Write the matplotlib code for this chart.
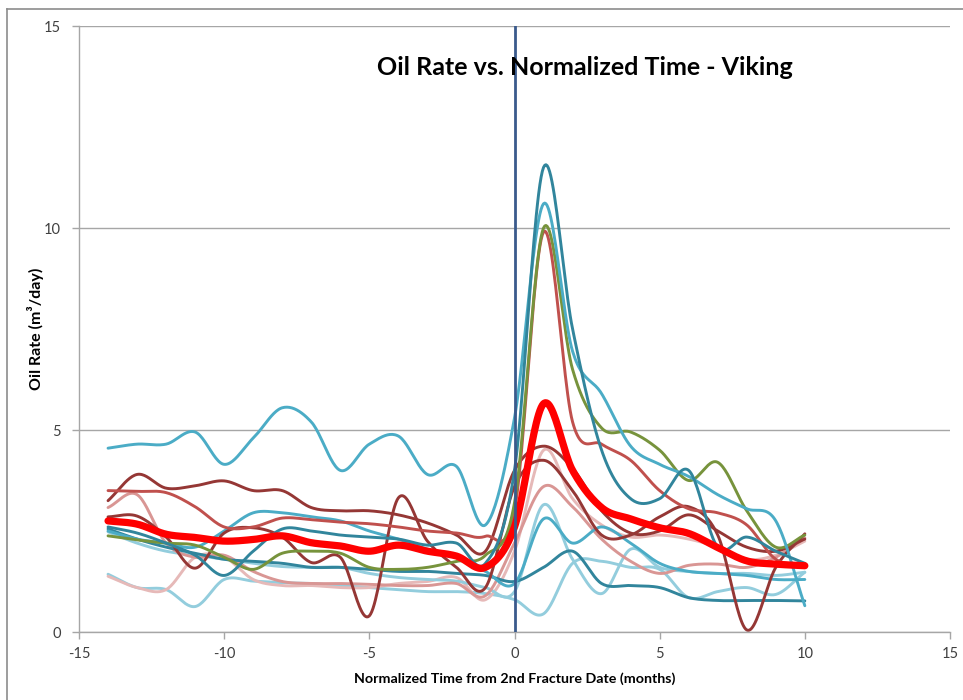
import numpy as np
import matplotlib
matplotlib.use("Agg")
import matplotlib.pyplot as plt
from matplotlib.lines import Line2D

plt.rcParams['font.family'] = ['Lato', 'DejaVu Sans']
plt.rcParams['axes.unicode_minus'] = False

# months from the 2nd fracture date
months = list(range(-14, 11))

# monthly oil rate per well (m3/day)
cyan_hi = [4.55, 4.65, 4.65, 4.95, 4.15, 4.8, 5.55, 5.2, 4.0, 4.65, 4.85, 3.9, 4.1, 2.65,
           5.3, 10.6, 6.95, 5.9, 4.6, 4.15, 3.85, 3.4, 3.05, 2.75, 0.65]
teal_peak = [2.6, 2.45, 2.2, 1.9, 1.4, 2.0, 2.55, 2.5, 2.4, 2.35, 2.3, 2.15, 2.2, 1.7,
             4.0, 11.5, 7.5, 4.5, 3.3, 3.3, 4.0, 2.1, 2.35, 2.0, 1.7]
olive = [2.38, 2.28, 2.2, 2.15, 1.85, 1.55, 1.95, 2.0, 1.95, 1.6, 1.55, 1.6, 1.75, 1.9,
         3.2, 10.0, 6.5, 5.05, 4.95, 4.5, 3.75, 4.2, 3.0, 2.1, 2.4]
red_peak = [3.5, 3.48, 3.45, 3.1, 2.6, 2.6, 2.82, 2.78, 2.72, 2.68, 2.6, 2.5, 2.45, 2.37,
            3.0, 9.9, 5.2, 4.65, 4.25, 3.5, 3.05, 2.95, 2.65, 1.8, 1.68]
maroon_a = [3.25, 3.9, 3.56, 3.62, 3.74, 3.5, 3.5, 3.08, 3.0, 3.0, 2.9, 2.7, 2.4, 2.0,
            4.0, 4.6, 4.05, 3.0, 2.45, 2.5, 2.9, 2.5, 2.1, 2.0, 2.3]
maroon_b = [2.85, 2.87, 2.35, 1.58, 2.45, 2.58, 2.35, 1.72, 1.85, 0.4, 3.32, 2.25, 1.6, 1.1,
            3.6, 4.25, 3.5, 2.4, 2.4, 2.85, 3.1, 2.4, 0.05, 1.6, 2.43]
pink = [3.08, 3.4, 2.2, 1.85, 1.9, 1.5, 1.25, 1.2, 1.2, 1.18, 1.15, 1.15, 1.2, 0.9,
        2.2, 3.6, 3.1, 2.3, 1.75, 1.45, 1.65, 1.68, 1.6, 1.85, 2.33]
light_pink = [1.38, 1.1, 1.05, 1.85, 1.85, 1.3, 1.15, 1.15, 1.1, 1.1, 1.2, 1.25, 1.35, 0.8,
              2.0, 4.5, 3.3, 2.65, 2.35, 2.4, 2.3, 2.1, 1.8, 1.9, 2.25]
light_blue_a = [1.43, 1.1, 1.05, 0.63, 1.3, 1.26, 1.22, 1.2, 1.15, 1.1, 1.05, 1.0, 1.0, 0.95,
                0.8, 0.45, 1.7, 1.75, 1.6, 1.55, 0.85, 1.0, 1.1, 0.93, 1.48]
light_blue_b = [2.48, 2.2, 2.0, 1.9, 1.8, 1.7, 1.62, 1.6, 1.6, 1.45, 1.35, 1.3, 1.26, 1.1,
                1.0, 3.15, 1.8, 0.95, 2.05, 1.6, 1.5, 1.45, 1.45, 1.4, 1.48]
teal_low = [2.55, 2.3, 2.1, 1.95, 1.8, 1.75, 1.7, 1.6, 1.6, 1.55, 1.5, 1.5, 1.45, 1.4,
            1.25, 1.6, 2.0, 1.2, 1.15, 1.1, 0.85, 0.78, 0.78, 0.78, 0.77]
cyan_mid = [2.5, 2.3, 2.2, 2.1, 2.5, 2.95, 2.95, 2.85, 2.75, 2.5, 2.3, 2.05, 1.9, 1.5,
            1.2, 2.8, 2.2, 2.6, 2.2, 1.7, 1.5, 1.45, 1.4, 1.3, 1.3]
average = [2.75, 2.67, 2.42, 2.34, 2.25, 2.29, 2.38, 2.21, 2.13, 2.0, 2.15, 2.0, 1.88, 1.6,
           2.6, 5.65, 4.0, 3.08, 2.8, 2.58, 2.44, 2.09, 1.76, 1.68, 1.64]

wells = [
    (light_blue_a, '#93CDDD'),
    (light_pink, '#E6B9B8'),
    (light_blue_b, '#93CDDD'),
    (pink, '#D99694'),
    (teal_low, '#31859C'),
    (cyan_mid, '#4BACC6'),
    (maroon_b, '#953735'),
    (maroon_a, '#953735'),
    (red_peak, '#C0504D'),
    (olive, '#77933C'),
    (cyan_hi, '#4BACC6'),
    (teal_peak, '#31859C'),
]


def smooth(x, y, n=24):
    # catmull-rom, like excel's smoothed line
    x = np.asarray(x, float)
    y = np.asarray(y, float)
    px = np.concatenate([[2 * x[0] - x[1]], x, [2 * x[-1] - x[-2]]])
    py = np.concatenate([[2 * y[0] - y[1]], y, [2 * y[-1] - y[-2]]])
    t = np.linspace(0, 1, n, endpoint=False)
    xs, ys = [], []
    for i in range(1, len(px) - 2):
        for p, out in ((px, xs), (py, ys)):
            p0, p1, p2, p3 = p[i - 1], p[i], p[i + 1], p[i + 2]
            out.append(0.5 * (2 * p1 + (-p0 + p2) * t + (2 * p0 - 5 * p1 + 4 * p2 - p3) * t ** 2
                              + (-p0 + 3 * p1 - 3 * p2 + p3) * t ** 3))
    xs.append([x[-1]])
    ys.append([y[-1]])
    return np.concatenate(xs), np.concatenate(ys)


fig = plt.figure(figsize=(9.63, 7.0), dpi=100)
ax = fig.add_axes([79 / 963, 68 / 700, 871 / 963, 606 / 700])

for vals, col in wells:
    sx, sy = smooth(months, vals)
    ax.plot(sx, sy, color=col, lw=2.1, solid_capstyle='round')

sx, sy = smooth(months, average)
ax.plot(sx, sy, color='#FF0000', lw=5.2, solid_capstyle='round', zorder=5)

ax.axvline(0, color='#3A5A8C', lw=2.0, zorder=6)

ax.set_xlim(-15, 15)
ax.set_ylim(0, 15)
ax.set_xticks(range(-15, 16, 5))
ax.set_yticks([0, 5, 10, 15])
ax.grid(axis='y', color='#A6A6A6', lw=1.0)
ax.set_axisbelow(True)
for s in ['top', 'right']:
    ax.spines[s].set_visible(False)
for s in ['left', 'bottom']:
    ax.spines[s].set_color('#A6A6A6')
    ax.spines[s].set_linewidth(1.0)
ax.tick_params(colors='#A6A6A6', labelcolor='#404040', labelsize=10.5, length=5, width=1.0)
ax.tick_params(axis='x', pad=6)
ax.tick_params(axis='y', pad=8)

ax.set_xlabel('Normalized Time from 2nd Fracture Date (months)', fontsize=10.3,
              fontweight='bold', labelpad=8)
ax.set_ylabel('Oil Rate (m³/day)', fontsize=11.5, fontweight='bold')
ax.yaxis.set_label_coords(-0.04, 0.5)

fig.text(0.6075, 0.903, 'Oil Rate vs. Normalized Time - Viking', fontsize=18,
         fontweight='bold', ha='center', va='center')

# chart area frame (left and top edges visible)
fig.add_artist(Line2D([7 / 963, 7 / 963], [0, 1 - 9 / 700], color='#8C8C8C', lw=1.2))
fig.add_artist(Line2D([7 / 963, 1], [1 - 9 / 700, 1 - 9 / 700], color='#8C8C8C', lw=1.2))

fig.savefig('out.png', dpi=100)
